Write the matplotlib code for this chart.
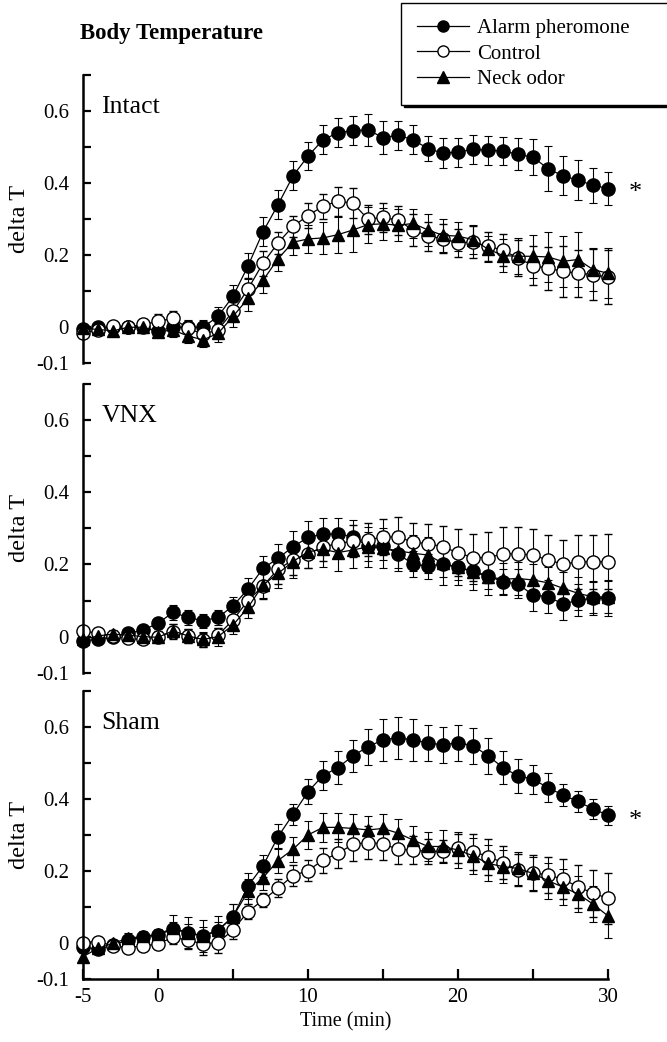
import matplotlib
matplotlib.use("Agg")
import matplotlib.pyplot as plt
from matplotlib.lines import Line2D

plt.rcParams['font.family'] = ['Liberation Serif', 'DejaVu Serif']

time_min = [-5, -4, -3, -2, -1, 0, 1, 2, 3, 4, 5, 6, 7, 8, 9, 10, 11, 12,
            13, 14, 15, 16, 17, 18, 19, 20, 21, 22, 23, 24, 25, 26, 27, 28, 29, 30]

series_names = ["Alarm pheromone", "Control", "Neck odor"]
panel_names = ["Intact", "VNX", "Sham"]

# ---- Intact ----
intact_alarm = [-0.005, 0, 0, 0, 0, -0.01, 0, 0, 0, 0.03, 0.086, 0.17, 0.265, 0.34, 0.42, 0.475, 0.52, 0.54, 0.545,
                0.548, 0.526, 0.533, 0.52, 0.496, 0.483, 0.486, 0.494, 0.491, 0.489, 0.48, 0.472, 0.44, 0.42, 0.408, 0.394, 0.385]
intact_control = [-0.017, -0.007, 0.004, 0, 0.008, 0.016, 0.025, -0.003, -0.019, -0.007, 0.044, 0.106, 0.178, 0.234, 0.28, 0.31, 0.336, 0.35, 0.344,
                  0.30, 0.305, 0.297, 0.27, 0.253, 0.246, 0.234, 0.236, 0.225, 0.214, 0.192, 0.171, 0.164, 0.155, 0.15, 0.146, 0.139]
intact_neck = [-0.003, -0.006, -0.01, 0, 0, -0.012, -0.008, -0.024, -0.035, -0.017, 0.03, 0.08, 0.13, 0.19, 0.236, 0.245, 0.248, 0.257, 0.27,
               0.285, 0.287, 0.283, 0.288, 0.27, 0.255, 0.253, 0.243, 0.217, 0.199, 0.197, 0.197, 0.195, 0.183, 0.188, 0.16, 0.15]
intact_alarm_err = [0.01, 0.01, 0.01, 0.01, 0.01, 0.015, 0.015, 0.02, 0.02, 0.025,
                    0.03, 0.035, 0.04, 0.04, 0.04, 0.04, 0.04, 0.04, 0.04, 0.045,
                    0.045, 0.04, 0.04, 0.035, 0.042, 0.04, 0.04, 0.04, 0.04, 0.045,
                    0.05, 0.063, 0.054, 0.056, 0.049, 0.046]
intact_control_err = [0.01, 0.01, 0.01, 0.01, 0.015, 0.02, 0.02, 0.02, 0.02, 0.02,
                      0.025, 0.03, 0.035, 0.03, 0.03, 0.035, 0.035, 0.04, 0.042, 0.04,
                      0.04, 0.04, 0.045, 0.04, 0.04, 0.04, 0.045, 0.04, 0.045, 0.05,
                      0.055, 0.06, 0.07, 0.065, 0.07, 0.075]
intact_neck_err = [0.01, 0.01, 0.01, 0.01, 0.015, 0.015, 0.02, 0.02, 0.02, 0.025,
                   0.03, 0.035, 0.035, 0.035, 0.035, 0.04, 0.045, 0.05, 0.06, 0.05,
                   0.045, 0.045, 0.04, 0.045, 0.045, 0.04, 0.04, 0.035, 0.045, 0.05,
                   0.06, 0.07, 0.07, 0.075, 0.06, 0.07]

# ---- VNX ----
vnx_alarm = [-0.011, -0.008, 0, 0.009, 0.018, 0.037, 0.067, 0.053, 0.044, 0.053, 0.085, 0.132, 0.189, 0.217, 0.249, 0.275, 0.284, 0.284, 0.277,
             0.25, 0.252, 0.229, 0.201, 0.195, 0.201, 0.192, 0.182, 0.168, 0.152, 0.146, 0.115, 0.111, 0.09, 0.101, 0.106, 0.106]
vnx_control = [0.016, 0.009, 0.002, -0.005, -0.008, 0, 0.014, 0.002, -0.01, 0.004, 0.046, 0.1, 0.14, 0.187, 0.212, 0.229, 0.249, 0.258, 0.265,
               0.269, 0.275, 0.277, 0.261, 0.258, 0.249, 0.232, 0.219, 0.219, 0.229, 0.229, 0.226, 0.212, 0.201, 0.207, 0.207, 0.207]
vnx_neck = [-0.008, 0.002, 0.007, 0.004, 0, -0.002, 0.016, 0.002, -0.008, 0, 0.032, 0.081, 0.143, 0.175, 0.208, 0.235, 0.242, 0.233, 0.24,
            0.249, 0.245, 0.238, 0.231, 0.226, 0.203, 0.192, 0.18, 0.166, 0.159, 0.161, 0.157, 0.149, 0.134, 0.12, 0.11, 0.11]
vnx_alarm_err = [0.01, 0.01, 0.01, 0.01, 0.015, 0.015, 0.02, 0.02, 0.02, 0.02,
                 0.025, 0.03, 0.035, 0.04, 0.045, 0.045, 0.045, 0.045, 0.045, 0.04,
                 0.04, 0.04, 0.035, 0.035, 0.035, 0.035, 0.035, 0.035, 0.035, 0.04,
                 0.045, 0.045, 0.045, 0.045, 0.045, 0.05]
vnx_control_err = [0.01, 0.01, 0.01, 0.01, 0.01, 0.015, 0.02, 0.02, 0.02, 0.02,
                   0.025, 0.03, 0.035, 0.04, 0.04, 0.04, 0.04, 0.04, 0.045, 0.045,
                   0.05, 0.055, 0.055, 0.055, 0.058, 0.065, 0.065, 0.07, 0.075, 0.075,
                   0.072, 0.07, 0.068, 0.075, 0.075, 0.076]
vnx_neck_err = [0.01, 0.01, 0.01, 0.01, 0.01, 0.015, 0.02, 0.02, 0.02, 0.025,
                0.025, 0.03, 0.035, 0.04, 0.045, 0.045, 0.05, 0.05, 0.05, 0.055,
                0.055, 0.055, 0.05, 0.05, 0.06, 0.05, 0.05, 0.05, 0.045, 0.045,
                0.045, 0.045, 0.045, 0.045, 0.045, 0.045]

# ---- Sham ----
sham_alarm = [-0.01, -0.017, -0.005, 0.009, 0.017, 0.023, 0.039, 0.03, 0.02, 0.035, 0.074, 0.159, 0.215, 0.296, 0.358, 0.421, 0.466, 0.488, 0.521,
              0.546, 0.565, 0.571, 0.565, 0.557, 0.551, 0.557, 0.549, 0.521, 0.488, 0.465, 0.456, 0.432, 0.412, 0.394, 0.373, 0.356]
sham_control = [0.002, 0.005, -0.007, -0.012, -0.007, -0.002, 0.017, 0.009, -0.002, 0.002, 0.037, 0.088, 0.12, 0.153, 0.188, 0.202, 0.231, 0.25, 0.275,
                0.28, 0.276, 0.261, 0.259, 0.255, 0.256, 0.264, 0.255, 0.241, 0.224, 0.204, 0.196, 0.19, 0.178, 0.157, 0.139, 0.125]
sham_neck = [-0.037, -0.014, 0, 0.014, 0.019, 0.025, 0.042, 0.03, 0.02, 0.037, 0.074, 0.144, 0.182, 0.23, 0.261, 0.301, 0.322, 0.322, 0.319,
             0.315, 0.319, 0.306, 0.287, 0.269, 0.269, 0.259, 0.243, 0.222, 0.213, 0.208, 0.194, 0.174, 0.156, 0.137, 0.109, 0.076]
sham_alarm_err = [0.01, 0.01, 0.01, 0.015, 0.015, 0.015, 0.02, 0.025, 0.025, 0.025,
                  0.035, 0.035, 0.03, 0.035, 0.03, 0.035, 0.04, 0.045, 0.045, 0.05,
                  0.058, 0.059, 0.058, 0.05, 0.05, 0.05, 0.05, 0.05, 0.045, 0.048,
                  0.04, 0.04, 0.03, 0.03, 0.028, 0.026]
sham_control_err = [0.01, 0.01, 0.01, 0.01, 0.015, 0.015, 0.02, 0.025, 0.03, 0.03,
                    0.025, 0.02, 0.02, 0.025, 0.03, 0.03, 0.035, 0.04, 0.045, 0.045,
                    0.045, 0.04, 0.04, 0.035, 0.03, 0.04, 0.05, 0.05, 0.045, 0.045,
                    0.05, 0.05, 0.055, 0.06, 0.065, 0.07]
sham_neck_err = [0.01, 0.01, 0.01, 0.015, 0.015, 0.015, 0.037, 0.044, 0.045, 0.04,
                 0.035, 0.035, 0.035, 0.035, 0.035, 0.04, 0.04, 0.04, 0.04, 0.04,
                 0.04, 0.04, 0.04, 0.04, 0.045, 0.05, 0.05, 0.05, 0.045, 0.045,
                 0.045, 0.05, 0.05, 0.05, 0.05, 0.06]

# significance markers: (panel index, value)
star_panels = [0, 2]
star_values = [0.372, 0.34]

yticks = [-0.1, 0, 0.1, 0.2, 0.3, 0.4, 0.5, 0.6, 0.7]
ytick_labels = ["-0.1", "0", "", "0.2", "", "0.4", "", "0.6", ""]
xticks = [-5, 0, 5, 10, 15, 20, 25, 30]
xtick_labels = ["-5", "0", "", "10", "", "20", "", "30"]

panels = [
    (intact_alarm, intact_control, intact_neck, intact_alarm_err, intact_control_err, intact_neck_err),
    (vnx_alarm, vnx_control, vnx_neck, vnx_alarm_err, vnx_control_err, vnx_neck_err),
    (sham_alarm, sham_control, sham_neck, sham_alarm_err, sham_control_err, sham_neck_err),
]

W, H = 667, 1042
fig = plt.figure(figsize=(W / 100, H / 100), dpi=100)

left = 83 / W
width = (608 - 83) / W
tops = [75, 384, 691.3]
bottoms = [363.3, 672.7, 979.3]

styles = [
    dict(marker='o', mfc='black', mec='black', ms=9.5),
    dict(marker='o', mfc='white', mec='black', ms=9.5, mew=1.0),
    dict(marker='^', mfc='black', mec='black', ms=9),
]

for i, (a, c, n, ae, ce, ne) in enumerate(panels):
    ax = fig.add_axes([left, 1 - bottoms[i] / H, width, (bottoms[i] - tops[i]) / H])
    ax.set_xlim(-5, 30)
    ax.set_ylim(-0.1, 0.7)
    for vals, errs, st in zip([a, c, n], [ae, ce, ne], styles):
        ax.errorbar(time_min, vals, yerr=errs, color='black', lw=0.9,
                    elinewidth=0.8, capsize=3, capthick=0.8, clip_on=False, **st)
    for sp in ['top', 'right']:
        ax.spines[sp].set_visible(False)
    ax.spines['left'].set_linewidth(1.8)
    ax.set_yticks(yticks)
    ax.set_yticklabels(ytick_labels)
    ax.tick_params(axis='y', direction='in', length=6, width=1.6, labelsize=15, pad=10)
    if i < 2:
        ax.spines['bottom'].set_visible(False)
        ax.set_xticks([])
    else:
        ax.spines['bottom'].set_linewidth(1.8)
        ax.set_xticks(xticks)
        ax.set_xticklabels(xtick_labels)
        ax.tick_params(axis='x', direction='in', length=7, width=1.6, labelsize=15, pad=6)
        ax.set_xlabel("Time (min)", fontsize=14.5, labelpad=4)
    ax.set_ylabel("delta T", fontsize=17.5)
    ax.yaxis.set_label_coords(-0.1, 0.5)
    ax.text(0.035, 0.89, panel_names[i], transform=ax.transAxes, fontsize=18.5,
            va='center', ha='left')
    if i in star_panels:
        ax.text(31.8, star_values[star_panels.index(i)], "*", fontsize=19,
                ha='center', va='center', clip_on=False)

fig.text(80 / W, 1 - 33 / H, "Body Temperature", fontsize=16.5, fontweight='bold',
         va='center', ha='left')

handles = [Line2D([], [], color='black', lw=0.9, **st) for st in styles]
for h in handles:
    h.set_markersize(8)
leg = fig.legend(handles, series_names, loc='upper left',
                 bbox_to_anchor=(401 / W, 1 - 99 / H, 0.44, 96 / H), mode='expand',
                 frameon=True, fancybox=False, edgecolor='black', framealpha=1,
                 fontsize=15, handlelength=2.5, handletextpad=0.4, labelspacing=0.28,
                 borderaxespad=0, borderpad=0.75,
                 shadow={'color': 'black', 'alpha': 1})
leg.get_frame().set_linewidth(1.0)

fig.savefig("out.png", dpi=100)
